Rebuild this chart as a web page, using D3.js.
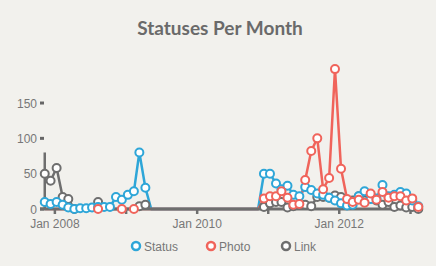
<!DOCTYPE html>
<html>
<head>
<meta charset="utf-8">
<script src="https://cdn.jsdelivr.net/npm/d3@7"></script>
<style>
  body { margin: 0; background: #f2f1ed; }
  svg { display: block; }
</style>
</head>
<body>
<svg id="chart" width="436" height="266"></svg>
<script>
// months from Nov 2007 to Feb 2013, null = no data that month
const months = d3.timeMonth.range(new Date(2007, 10, 1), new Date(2013, 2, 1));

const statusValues = [
  10, 7, 10, 6, 2, 0, 1, 1, 2, 3, 3, 3, 17, 13, 20, 25, 80, 30,
  null, null, null, null, null, null, null, null, null, null, null, null, null, null, null, null, null, null, null,
  50, 50, 36, 28, 33, 20, 18, 31, 27, 22, 20, 16, 12, 8, 5, 6, 18, 25, 14, 15, 34, 18, 20, 24, 22, 12, 4
];
const photoValues = [
  null, null, null, null, null, null, null, null, null, 0, null, null, null, 0, null, 0, null, null,
  null, null, null, null, null, null, null, null, null, null, null, null, null, null, null, null, null, null, null,
  15, 18, 18, 25, 16, 6, 7, 41, 82, 100, 28, 44, 198, 57, 14, 10, 13, 9, 22, 13, 24, 16, 18, 18, 12, 15, 3
];
const linkValues = [
  50, 40, 58, 17, 14, 0, null, null, null, 10, null, null, null, null, null, null, 4, 6,
  null, null, null, null, null, null, null, null, null, null, null, null, null, null, null, null, null, null, null,
  3, 8, 10, 10, 2, 4, 6, 6, 4, 17, 17, 16, 19, 17, 10, 12, 18, 12, 20, 12, 6, 10, 3, 5, 2, 3, 0
];
const startMarkerValue = 80;

const seriesNames = ["Status", "Photo", "Link"];
const seriesColors = ["#2ea6d8", "#f0645b", "#6e6e6e"];
const yTicks = [0, 50, 100, 150];
const xLabelYears = [2008, 2010, 2012];

const svg = d3.select("#chart");

const x = d3.scaleTime()
  .domain([new Date(2007, 10, 1), new Date(2013, 2, 1)])
  .range([43, 422]);
const y = d3.scaleLinear().domain([0, 200]).range([209, 67.7]);

const dateOf = d => d3.timeDay.offset(d, 9);

svg.append("text")
  .attr("x", 220).attr("y", 35)
  .attr("text-anchor", "middle")
  .attr("font-family", "Lato, 'Open Sans', sans-serif")
  .attr("font-weight", 700)
  .attr("font-size", 19)
  .attr("fill", "#6a6a6a")
  .text("Statuses Per Month");

// y axis labels and small ticks
const yAxis = svg.append("g");
yAxis.selectAll("text").data(yTicks).join("text")
  .attr("x", 37).attr("y", d => y(d) + 4.5)
  .attr("text-anchor", "end")
  .attr("font-family", "'Liberation Sans', Arial, sans-serif")
  .attr("font-size", 12)
  .attr("fill", "#777")
  .text(d => d);
yAxis.selectAll("line").data(yTicks).join("line")
  .attr("x1", 40).attr("x2", 44)
  .attr("y1", d => y(d)).attr("y2", d => y(d))
  .attr("stroke", "#666").attr("stroke-width", 3);

const allSeries = [statusValues, photoValues, linkValues];
// draw order: Link underneath, then Status, Photo on top
const drawOrder = [2, 0, 1];

const line = d3.line()
  .x((d, i) => x(dateOf(months[i])))
  .y(d => y(d ?? 0));

const linesG = svg.append("g");
drawOrder.forEach(s => {
  linesG.append("path")
    .datum(allSeries[s])
    .attr("fill", "none")
    .attr("stroke", seriesColors[s])
    .attr("stroke-width", 2.5)
    .attr("stroke-linejoin", "round")
    .attr("d", line);
});

// x axis
const xr = x.range();
const xAxis = svg.append("g");
xAxis.append("line")
  .attr("x1", xr[0] - 3).attr("x2", xr[1] + 1)
  .attr("y1", y(0)).attr("y2", y(0))
  .attr("stroke", "#6e6e6e").attr("stroke-width", 3);
xAxis.selectAll("line.tick").data(d3.timeYear.range(new Date(2008, 0, 1), new Date(2013, 1, 1))).join("line")
  .attr("class", "tick")
  .attr("x1", d => x(d)).attr("x2", d => x(d))
  .attr("y1", y(0)).attr("y2", y(0) + 5)
  .attr("stroke", "#6e6e6e").attr("stroke-width", 2.5);
xAxis.selectAll("text").data(xLabelYears).join("text")
  .attr("x", d => x(new Date(d, 0, 1)))
  .attr("y", y(0) + 19)
  .attr("text-anchor", "middle")
  .attr("font-family", "'Liberation Sans', Arial, sans-serif")
  .attr("font-size", 12)
  .attr("fill", "#777")
  .text(d => "Jan " + d);

// marker line at first month
svg.append("line")
  .attr("x1", x(dateOf(months[0]))).attr("x2", x(dateOf(months[0])))
  .attr("y1", y(0)).attr("y2", y(startMarkerValue))
  .attr("stroke", "#6e6e6e").attr("stroke-width", 2.5);

drawOrder.forEach(s => {
  const vals = allSeries[s];
  svg.append("g").selectAll("circle")
    .data(vals.map((v, i) => ({ v, i })).filter(d => d.v !== null))
    .join("circle")
    .attr("cx", d => x(dateOf(months[d.i])))
    .attr("cy", d => y(d.v))
    .attr("r", 4)
    .attr("fill", "#fff")
    .attr("stroke", seriesColors[s])
    .attr("stroke-width", 2);
});

// legend
const legendX = [136, 211, 286];
const legend = svg.append("g").selectAll("g").data(seriesNames).join("g")
  .attr("transform", (d, i) => `translate(${legendX[i]},246)`);
legend.append("circle")
  .attr("r", 4)
  .attr("fill", "#fff")
  .attr("stroke", (d, i) => seriesColors[i])
  .attr("stroke-width", 2.5);
legend.append("text")
  .attr("x", 8).attr("y", 4.5)
  .attr("font-family", "'Liberation Sans', Arial, sans-serif")
  .attr("font-size", 12)
  .attr("fill", "#777")
  .text(d => d);
</script>
</body>
</html>
